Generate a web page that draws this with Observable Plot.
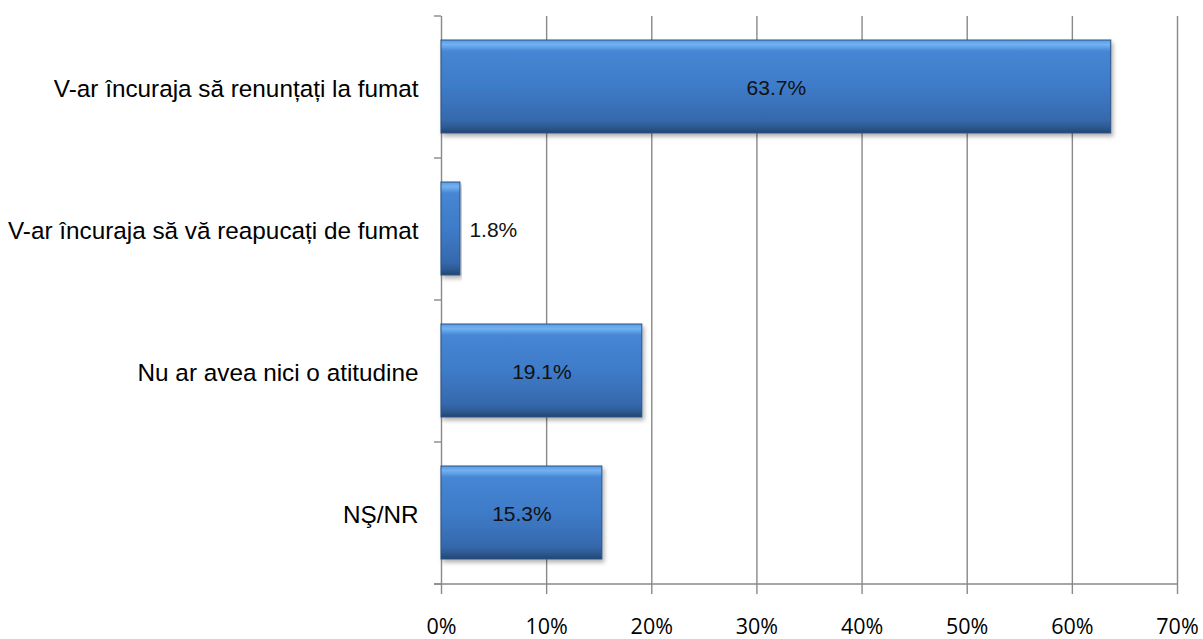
<!DOCTYPE html>
<html>
<head>
<meta charset="utf-8">
<script src="https://cdn.jsdelivr.net/npm/d3@7"></script>
<script src="https://cdn.jsdelivr.net/npm/@observablehq/plot@0.6"></script>
<style>
  html, body { margin: 0; padding: 0; background: #fff; }
</style>
</head>
<body>
<div id="chart"></div>
<script>
const categories = [
  "V-ar încuraja să renunțați la fumat",
  "V-ar încuraja să vă reapucați de fumat",
  "Nu ar avea nici o atitudine",
  "NŞ/NR"
];
const values = [63.7, 1.8, 19.1, 15.3];
const xTicks = [0, 10, 20, 30, 40, 50, 60, 70];

const data = categories.map((c, i) => ({label: c, value: values[i]}));
const fmt = d => d.value.toFixed(1) + "%";

const frameLines = (index, scales, values, dimensions) => {
  const {marginTop, marginBottom, height} = dimensions;
  const g = d3.create("svg:g").attr("stroke", "#898989").attr("stroke-width", 1.4).attr("fill", "none");
  const bottom = height - marginBottom;
  const x0 = scales.x(xTicks[0]);
  const x1 = scales.x(xTicks[xTicks.length - 1]);
  g.append("line").attr("x1", x0 - 7).attr("x2", x1).attr("y1", bottom).attr("y2", bottom);
  const n = categories.length;
  const step = (bottom - marginTop) / n;
  for (let i = 0; i <= n; i++) {
    const y = marginTop + i * step;
    g.append("line").attr("x1", x0 - 7).attr("x2", x0).attr("y1", y).attr("y2", y);
  }
  return g.node();
};

const svg = Plot.plot({
  width: 1203,
  height: 639,
  marginLeft: 441,
  marginRight: 26,
  marginTop: 16,
  marginBottom: 55,
  style: {fontFamily: "'Liberation Sans', Arial, sans-serif", color: "#000", background: "#fff", overflow: "visible"},
  x: {domain: [0, 70], label: null},
  y: {domain: categories, paddingInner: 0.345, paddingOuter: 0.1725, label: null},
  marks: [
    Plot.ruleX(xTicks, {stroke: "#898989", strokeWidth: 1.4}),
    frameLines,
    Plot.barX(data, {x: "value", y: "label", fill: "url(#barGrad)", stroke: "#2b5284", strokeWidth: 1}),
    Plot.text(data.filter(d => d.value > 5), {x: d => d.value / 2, y: "label", text: fmt, fontSize: 21, fill: "#111", dy: 1}),
    Plot.text(data.filter(d => d.value <= 5), {x: "value", y: "label", text: fmt, fontSize: 21, fill: "#111", textAnchor: "start", dx: 9, dy: 1}),
    Plot.axisX(xTicks, {tickFormat: d => d + "%", tickSize: 10, tickPadding: 24, fontSize: 21.5, stroke: "#898989", strokeWidth: 1.4, fontFamily: "'Open Sans', sans-serif", fill: "#000", label: null}),
    Plot.axisY({tickSize: 0, tickPadding: 23, fontSize: 24.3, fill: "#000", dy: 2, label: null})
  ]
});

const s = d3.select(svg);
const defs = s.insert("defs", ":first-child");
const grad = defs.append("linearGradient").attr("id", "barGrad").attr("x1", 0).attr("y1", 0).attr("x2", 0).attr("y2", 1);
[[0, "#5a9be3"], [0.05, "#72b2f2"], [0.12, "#4686d4"], [0.5, "#3e7bc8"], [0.86, "#3669ad"], [0.94, "#2c5991"], [1, "#22466f"]]
  .forEach(([o, c]) => grad.append("stop").attr("offset", o).attr("stop-color", c));
const filt = defs.append("filter").attr("id", "shadow").attr("x", "-5%").attr("y", "-10%").attr("width", "115%").attr("height", "130%");
filt.append("feDropShadow").attr("dx", 2).attr("dy", 3).attr("stdDeviation", 2.2).attr("flood-color", "#000").attr("flood-opacity", 0.3);
s.selectAll('g[aria-label="bar"] rect').attr("filter", "url(#shadow)");

document.getElementById("chart").appendChild(svg);
</script>
</body>
</html>
